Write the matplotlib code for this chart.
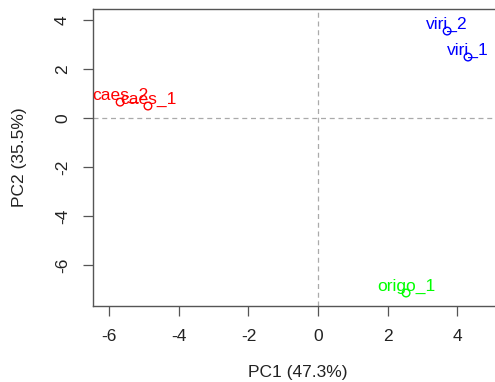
import matplotlib
matplotlib.use("Agg")
import matplotlib.pyplot as plt

labels = ["caes_1", "caes_2", "origo_1", "viri_1", "viri_2"]
pc1 = [-4.89, -5.69, 2.53, 4.31, 3.71]
pc2 = [0.49, 0.65, -7.14, 2.49, 3.55]
colors = ["#FF0000", "#FF0000", "#00FF00", "#0000FF", "#0000FF"]
xticks = [-6, -4, -2, 0, 2, 4]
yticks = [-6, -4, -2, 0, 2, 4]

plt.rcParams['font.family'] = ['Liberation Sans', 'DejaVu Sans']

W, H = 495, 382
fig = plt.figure(figsize=(W / 100, H / 100), dpi=100)
left, right, top, bottom = 93, 502, 9, 306
ax = fig.add_axes([left / W, (H - bottom) / H, (right - left) / W, (bottom - top) / H])

ax.set_xlim(-6.47, (right - 318) / 34.8)
ax.set_ylim(-7.67, 4.45)

ax.axhline(0, color="#aaaaaa", lw=0.9, ls=(0, (4, 3)), zorder=1)
ax.axvline(0, color="#aaaaaa", lw=0.9, ls=(0, (4, 3)), zorder=1)

fs = 12.5
for x, y, lab, c in zip(pc1, pc2, labels, colors):
    ax.scatter([x], [y], s=30, facecolors="none", edgecolors=c, linewidths=1.0, zorder=3)
    ax.annotate(lab, (x, y), xytext=(0, 5), textcoords="offset points",
                ha="center", va="center", color=c, fontsize=fs, zorder=4)

ax.set_xticks(xticks)
ax.set_yticks(yticks)
ax.set_xticklabels([str(t) for t in xticks])
ax.set_yticklabels([str(t) for t in yticks], rotation=90, va="center")
ax.tick_params(direction="out", length=7.5, width=0.9, color="#555555",
               labelsize=fs, pad=9, labelcolor="#222222")
for s in ax.spines.values():
    s.set_color("#555555")
    s.set_linewidth(1.0)

ax.set_xlabel("PC1 (47.3%)", fontsize=fs, labelpad=15, color="#222222")
ax.set_ylabel("PC2 (35.5%)", fontsize=fs, labelpad=20, color="#222222")

fig.savefig("out.png", dpi=100)
